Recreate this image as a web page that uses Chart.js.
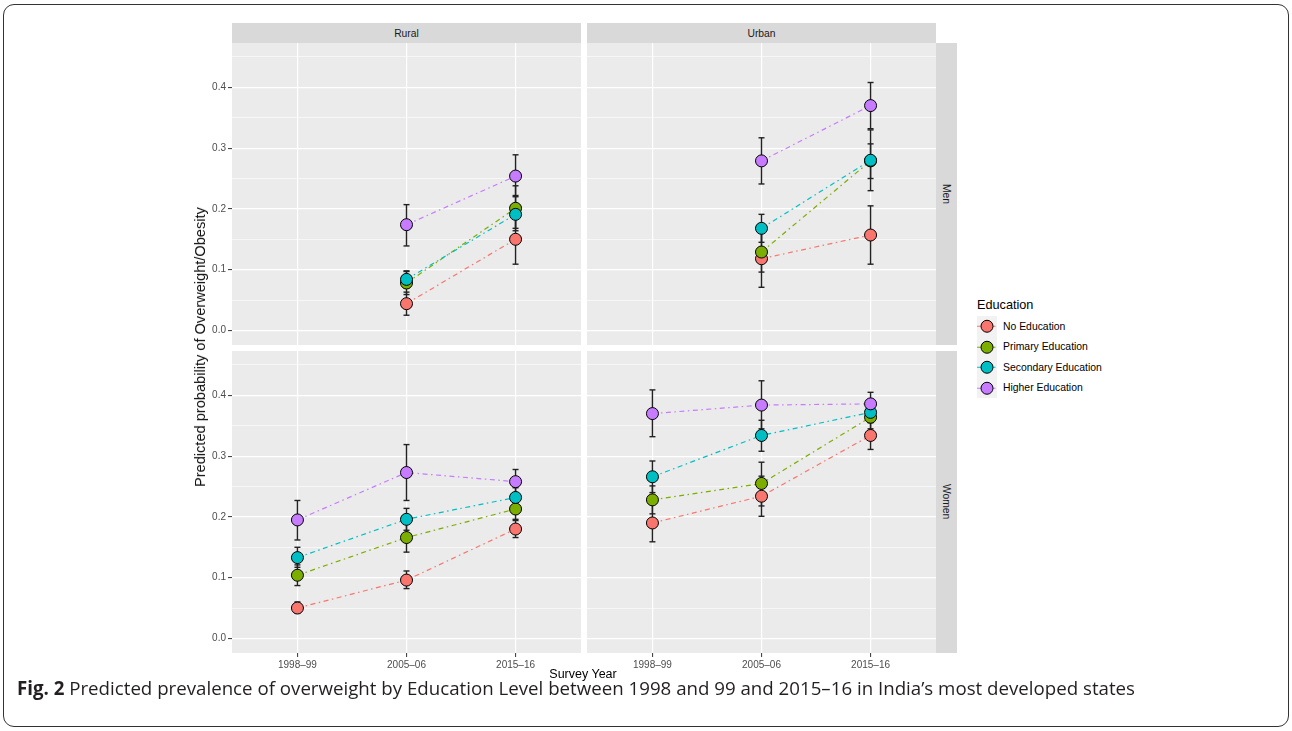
<!DOCTYPE html>
<html>
<head>
<meta charset="utf-8">
<script src="https://cdn.jsdelivr.net/npm/chart.js@4.4.0/dist/chart.umd.min.js"></script>
<style>
  body { margin: 0; background: #fff; font-family: "Liberation Sans", Arial, sans-serif; }
  #fig { position: relative; width: 1292px; height: 731px; overflow: hidden; }
  .frame { position: absolute; left: 3px; top: 4px; width: 1284px; height: 721px; border: 1.5px solid #333; border-radius: 11px; }
  .panel { position: absolute; }
  .strip { position: absolute; background: #D9D9D9; color: #1A1A1A; font-size: 10.3px;
           display: flex; align-items: center; justify-content: center; }
  .vstrip span { writing-mode: vertical-rl; }
  .ytitle { position: absolute; left: 200px; top: 347px; transform: translate(-50%, -50%) rotate(-90deg);
            white-space: nowrap; font-size: 14.6px; color: #111; }
  .xtitle { position: absolute; left: 583px; top: 674px; transform: translate(-50%, -50%);
            white-space: nowrap; font-size: 12.5px; line-height: 14px; color: #000; }
  .legend { position: absolute; left: 977px; top: 296px; color: #000; }
  .legend .title { font-size: 12.7px; height: 20px; line-height: 18px; }
  .legend .row { display: flex; align-items: center; height: 20.5px; font-size: 10.4px; }
  .legend .key { width: 20px; height: 20.5px; background: #F2F2F2; position: relative; margin-right: 6px; }
  .legend svg { position: absolute; left: 0; top: 0; }
  .caption { position: absolute; left: 17px; top: 677px; font-family: "Open Sans", "Noto Sans", sans-serif;
             font-size: 18.7px; line-height: 22px; color: #231F20; white-space: nowrap; }
  .caption b { font-weight: 700; }
</style>
</head>
<body>
<div id="fig">
  <div class="frame"></div>

  <div class="strip" style="left:232px; top:23px; width:349px; height:20px;">Rural</div>
  <div class="strip" style="left:587px; top:23px; width:349px; height:20px;">Urban</div>
  <div class="strip vstrip" style="left:936px; top:43px; width:21px; height:302px;"><span>Men</span></div>
  <div class="strip vstrip" style="left:936px; top:351px; width:21px; height:302px;"><span>Women</span></div>

  <div class="panel" style="left:190px; top:43px;"><canvas id="ruralMen" width="391" height="302"></canvas></div>
  <div class="panel" style="left:587px; top:43px;"><canvas id="urbanMen" width="349" height="302"></canvas></div>
  <div class="panel" style="left:190px; top:351px;"><canvas id="ruralWomen" width="391" height="322"></canvas></div>
  <div class="panel" style="left:587px; top:351px;"><canvas id="urbanWomen" width="349" height="322"></canvas></div>

  <div class="ytitle">Predicted probability of Overweight/Obesity</div>
  <div class="xtitle">Survey Year</div>

  <div class="legend" id="legend"><div class="title">Education</div></div>

  <div class="caption"><b>Fig. 2</b> Predicted prevalence of overweight by Education Level between 1998 and 99 and 2015–16 in India’s most developed states</div>
</div>

<script>
const YEARS = ['1998\u201399', '2005\u201306', '2015\u201316'];
const YEAR_POS = [1, 2, 3];
const SERIES = ['No Education', 'Primary Education', 'Secondary Education', 'Higher Education'];
const COLORS = ['#F8766D', '#7CAE00', '#00BFC4', '#C77CFF'];
const Y_TICKS = [0, 0.05, 0.1, 0.15, 0.2, 0.25, 0.3, 0.35, 0.4, 0.45];

// rows follow SERIES, columns follow YEARS
const ruralMenEst = [[null, 0.044, 0.150], [null, 0.078, 0.201], [null, 0.084, 0.191], [null, 0.174, 0.254]];
const ruralMenLo  = [[null, 0.025, 0.109], [null, 0.059, 0.164], [null, 0.070, 0.168], [null, 0.139, 0.222]];
const ruralMenHi  = [[null, 0.063, 0.190], [null, 0.097, 0.238], [null, 0.098, 0.220], [null, 0.207, 0.289]];

const urbanMenEst = [[null, 0.118, 0.157], [null, 0.129, 0.279], [null, 0.168, 0.280], [null, 0.279, 0.370]];
const urbanMenLo  = [[null, 0.071, 0.109], [null, 0.096, 0.230], [null, 0.145, 0.250], [null, 0.241, 0.332]];
const urbanMenHi  = [[null, 0.165, 0.205], [null, 0.162, 0.330], [null, 0.191, 0.307], [null, 0.317, 0.408]];

const ruralWomenEst = [[0.050, 0.096, 0.180], [0.104, 0.166, 0.213], [0.133, 0.196, 0.232], [0.195, 0.273, 0.258]];
const ruralWomenLo  = [[0.042, 0.082, 0.166], [0.087, 0.142, 0.196], [0.117, 0.178, 0.216], [0.162, 0.227, 0.238]];
const ruralWomenHi  = [[0.060, 0.111, 0.194], [0.121, 0.190, 0.230], [0.150, 0.214, 0.248], [0.227, 0.319, 0.278]];

const urbanWomenEst = [[0.190, 0.234, 0.334], [0.228, 0.255, 0.364], [0.266, 0.334, 0.372], [0.370, 0.384, 0.386]];
const urbanWomenLo  = [[0.159, 0.201, 0.311], [0.205, 0.218, 0.345], [0.240, 0.308, 0.355], [0.332, 0.345, 0.367]];
const urbanWomenHi  = [[0.221, 0.267, 0.357], [0.251, 0.290, 0.383], [0.292, 0.359, 0.389], [0.409, 0.424, 0.405]];

const isMajor = v => Math.abs(v * 10 - Math.round(v * 10)) < 1e-6;
const tickFont = { family: '"Liberation Sans", Arial, sans-serif', size: 10 };

// grey panel background like ggplot
const panelBg = {
    id: 'panelBg',
    beforeDraw(chart) {
        const { ctx, chartArea: a } = chart;
        ctx.save();
        ctx.fillStyle = '#EBEBEB';
        ctx.fillRect(a.left, a.top, a.right - a.left, a.bottom - a.top);
        ctx.restore();
    }
};

function buildPanel(id, est, lo, hi, showY, showX) {
    const datasets = [];
    SERIES.forEach((name, s) => {
        const pts = YEAR_POS.map((x, i) => ({ x: x, y: est[s][i] }));
        const bars = [];
        YEAR_POS.forEach((x, i) => {
            if (est[s][i] === null) return;
            bars.push({ x: x, y: lo[s][i] }, { x: x, y: hi[s][i] }, { x: x, y: null });
        });
        datasets.push({
            label: name, data: pts, showLine: false,
            pointRadius: 6, pointBackgroundColor: COLORS[s],
            pointBorderColor: '#000', pointBorderWidth: 1, order: 10 - s
        });
        datasets.push({
            label: name + ' line', data: pts, borderColor: COLORS[s], borderWidth: 1.2,
            borderDash: [5, 3.5, 1.5, 3.5], pointRadius: 0, spanGaps: false, order: 20 - s
        });
        datasets.push({
            label: name + ' CI', data: bars, borderColor: '#222', borderWidth: 1.4, spanGaps: false,
            pointStyle: 'line', pointRadius: 3, pointBorderColor: '#222', pointBorderWidth: 1.4, order: 30 - s
        });
    });

    new Chart(document.getElementById(id), {
        type: 'line',
        data: { datasets: datasets },
        plugins: [panelBg],
        options: {
            responsive: false,
            animation: false,
            events: [],
            devicePixelRatio: 1,
            layout: { padding: 0, autoPadding: false },
            plugins: { legend: { display: false }, tooltip: { enabled: false } },
            scales: {
                x: {
                    type: 'linear', min: 0.4, max: 3.6,
                    afterBuildTicks: scale => { scale.ticks = YEAR_POS.map(v => ({ value: v })); },
                    ticks: {
                        display: showX, color: '#4D4D4D', font: tickFont, padding: 2,
                        maxRotation: 0, autoSkip: false,
                        callback: v => YEARS[Math.round(v) - 1]
                    },
                    grid: { color: '#fff', lineWidth: 1.2, drawTicks: showX, tickLength: 4, tickColor: '#333', tickWidth: 1 },
                    border: { display: false },
                    afterFit: scale => { scale.height = showX ? 20 : 0; scale.paddingLeft = 0; scale.paddingRight = 0; }
                },
                y: {
                    type: 'linear', min: -0.024, max: 0.473,
                    afterBuildTicks: scale => { scale.ticks = Y_TICKS.map(v => ({ value: v })); },
                    ticks: {
                        display: showY, color: '#4D4D4D', font: tickFont, padding: 2,
                        callback: v => isMajor(v) ? v.toFixed(1) : ''
                    },
                    grid: {
                        color: '#fff',
                        lineWidth: c => isMajor(c.tick.value) ? 1.2 : 0.6,
                        drawTicks: showY, tickLength: 4,
                        tickColor: c => isMajor(c.tick.value) ? '#333' : 'rgba(0,0,0,0)',
                        tickWidth: 1
                    },
                    border: { display: false },
                    afterFit: scale => { scale.width = showY ? 42 : 0; scale.paddingTop = 0; scale.paddingBottom = 0; }
                }
            }
        }
    });
}

buildPanel('ruralMen', ruralMenEst, ruralMenLo, ruralMenHi, true, false);
buildPanel('urbanMen', urbanMenEst, urbanMenLo, urbanMenHi, false, false);
buildPanel('ruralWomen', ruralWomenEst, ruralWomenLo, ruralWomenHi, true, true);
buildPanel('urbanWomen', urbanWomenEst, urbanWomenLo, urbanWomenHi, false, true);

// legend keys
const legend = document.getElementById('legend');
SERIES.forEach((name, s) => {
    const row = document.createElement('div');
    row.className = 'row';
    row.innerHTML =
        '<div class="key"><svg width="20" height="20.5">' +
        '<line x1="0" y1="10.25" x2="20" y2="10.25" stroke="' + COLORS[s] + '" stroke-width="1.1" stroke-dasharray="5 3.5 1.5 3.5"/>' +
        '<circle cx="10" cy="10.25" r="6" fill="' + COLORS[s] + '" stroke="#000" stroke-width="1"/></svg></div>' +
        '<span>' + name + '</span>';
    legend.appendChild(row);
});
</script>
</body>
</html>
